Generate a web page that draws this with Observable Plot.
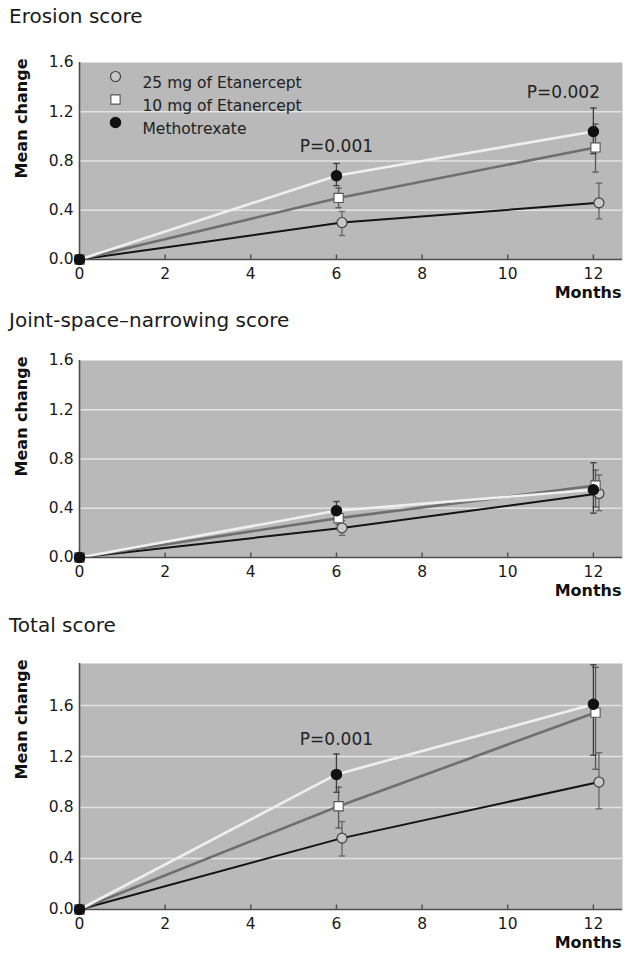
<!DOCTYPE html>
<html>
<head>
<meta charset="utf-8">
<script src="https://cdn.jsdelivr.net/npm/d3@7"></script>
<script src="https://cdn.jsdelivr.net/npm/@observablehq/plot@0.6"></script>
<style>
  body { margin: 0; background: #fff; width: 627px; height: 961px; position: relative; font-family: "DejaVu Sans", sans-serif; }
  .title { position: absolute; left: 9px; font-size: 20px; line-height: 24px; color: #1a1a1a; white-space: nowrap; }
  .panel { position: absolute; left: 0; }
</style>
</head>
<body>
<script>
// Visits and groups
const months = [0, 6, 12];
const seriesNames = ["25 mg of Etanercept", "10 mg of Etanercept", "Methotrexate"];
const xTicks = [0, 2, 4, 6, 8, 10, 12];

// Erosion score: mean change, lower and upper error bar ends
const erosionMean = [[0, 0.30, 0.46], [0, 0.50, 0.91], [0, 0.68, 1.04]];
const erosionLo   = [[null, 0.195, 0.33], [null, 0.42, 0.71], [null, 0.60, 0.86]];
const erosionHi   = [[null, 0.39, 0.62], [null, 0.58, 1.10], [null, 0.78, 1.23]];
const erosionP = ["P=0.001", "P=0.002"];
const erosionPMonth = [6, 11.3];
const erosionPValue = [0.92, 1.36];

// Joint-space-narrowing score
const jsnMean = [[0, 0.24, 0.52], [0, 0.32, 0.585], [0, 0.38, 0.55]];
const jsnLo   = [[null, 0.18, 0.38], [null, 0.27, 0.41], [null, 0.31, 0.36]];
const jsnHi   = [[null, 0.30, 0.67], [null, 0.38, 0.71], [null, 0.455, 0.77]];

// Total score
const totalMean = [[0, 0.56, 1.00], [0, 0.81, 1.545], [0, 1.06, 1.61]];
const totalLo   = [[null, 0.42, 0.79], [null, 0.64, 1.10], [null, 0.92, 1.21]];
const totalHi   = [[null, 0.69, 1.23], [null, 0.96, 1.90], [null, 1.22, 1.92]];
const totalP = ["P=0.001"];
const totalPMonth = [6];
const totalPValue = [1.33];

const yTicks = [0, 0.4, 0.8, 1.2, 1.6];

const BG = "#b9b9b9", GRID = "#e4e4e4", AXIS = "#4d4d4d", INK = "#1a1a1a";

// Per-group look: line, marker, small horizontal shift (in months) so markers don't overlap
const styles = [
  {line: "#141414", lw: 2,   shift: 0.13, symbol: "circle", fill: "#c8c8c8", stroke: "#3a3a3a", r: 5,   err: "#666"},
  {line: "#6f6f6f", lw: 2.6, shift: 0.05, symbol: "square", fill: "#ffffff", stroke: "#555",    r: 5.2, err: "#555"},
  {line: "#efefef", lw: 2.6, shift: 0,    symbol: "circle", fill: "#111111", stroke: "#111",    r: 5.2, err: "#3d3d3d"}
];

// Horizontal cap used at the ends of the error bars
const capSymbol = {draw(ctx, size) { const r = Math.sqrt(size) / 2; ctx.moveTo(-r, 0); ctx.lineTo(r, 0); }};
// Short inward tick rising from the bottom axis
const tickUpSymbol = {draw(ctx) { ctx.moveTo(0, 0); ctx.lineTo(0, -5); }};

function buildPanel({mean, lo, hi, yMax, height, marginBottom, pTexts = [], pMonths = [], pValues = [], legend = false}) {
  const marks = [
    Plot.frame({fill: BG}),
    Plot.gridY(yTicks.filter(v => v > 0 && v < yMax), {stroke: GRID, strokeOpacity: 1, strokeWidth: 1.6}),
    Plot.axisX({ticks: xTicks, tickSize: 0, tickPadding: 8, fontSize: 15.5, label: null, fill: INK}),
    Plot.axisY({ticks: yTicks, tickSize: 0, tickPadding: 6, tickFormat: d3.format(".1f"), fontSize: 15.5, label: null, fill: INK}),
    Plot.dot(xTicks.filter(v => v > 0), {x: d => d, y: () => 0, symbol: tickUpSymbol, r: 3, stroke: AXIS, strokeWidth: 1.4})
  ];
  const xOf = (i) => (d) => d.month + (d.month > 0 ? styles[i].shift : 0);
  seriesNames.forEach((name, i) => {
    const rows = months.map((m, j) => ({month: m, value: mean[i][j]}));
    marks.push(Plot.line(rows, {x: xOf(i), y: "value", stroke: styles[i].line, strokeWidth: styles[i].lw}));
  });
  seriesNames.forEach((name, i) => {
    const rows = months.map((m, j) => ({month: m, value: mean[i][j], lo: lo[i][j], hi: hi[i][j]})).filter(d => d.lo != null);
    const st = styles[i];
    marks.push(
      Plot.ruleX(rows, {x: xOf(i), y1: "lo", y2: "hi", stroke: st.err, strokeWidth: 1.3}),
      Plot.dot(rows, {x: xOf(i), y: "lo", symbol: capSymbol, r: 3.6, stroke: st.err, strokeWidth: 1.3}),
      Plot.dot(rows, {x: xOf(i), y: "hi", symbol: capSymbol, r: 3.6, stroke: st.err, strokeWidth: 1.3})
    );
  });
  marks.push(
    Plot.ruleX([0], {stroke: AXIS, strokeWidth: 1.6}),
    Plot.ruleY([0], {stroke: AXIS, strokeWidth: 1.6})
  );
  seriesNames.forEach((name, i) => {
    const rows = months.map((m, j) => ({month: m, value: mean[i][j]}));
    const st = styles[i];
    // at baseline all groups coincide; the square prints solid there
    const fill = st.symbol === "square" ? (d => d.month === 0 ? "#111" : st.fill) : st.fill;
    marks.push(Plot.dot(rows, {x: xOf(i), y: "value", symbol: st.symbol, r: st.r, fill, stroke: st.stroke, strokeWidth: 1.1}));
  });
  if (pTexts.length) {
    marks.push(Plot.text(pTexts.map((t, k) => ({t, month: pMonths[k], value: pValues[k]})),
      {x: "month", y: "value", text: "t", fontSize: 17, fill: "#222"}));
  }
  if (legend) {
    seriesNames.forEach((name, i) => {
      const st = styles[i];
      marks.push(
        Plot.dot([name], {frameAnchor: "top-left", dx: 36, dy: 14 + 23 * i, symbol: st.symbol, r: st.r, fill: st.fill, stroke: st.stroke, strokeWidth: 1.1}),
        Plot.text([name], {frameAnchor: "top-left", text: d => d, dx: 63, dy: 14 + 23 * i, textAnchor: "start", fontSize: 15.5, fill: "#222"})
      );
    });
  }
  marks.push(
    Plot.text(["Mean change"], {frameAnchor: "top-left", text: d => d, rotate: -90, textAnchor: "end", dx: -64, dy: -4, fontWeight: "bold", fontSize: 16, fill: "#111"}),
    Plot.text(["Months"], {frameAnchor: "bottom-right", text: d => d, textAnchor: "end", dx: -1, dy: 38, fontWeight: "bold", fontSize: 16, fill: "#111"})
  );
  return Plot.plot({
    width: 627,
    height,
    marginTop: 22,
    marginLeft: 79,
    marginRight: 5,
    marginBottom,
    x: {domain: [0, 12.68], label: null},
    y: {domain: [0, yMax], label: null},
    style: {fontFamily: "DejaVu Sans, sans-serif", fontSize: "15.5px", color: INK, background: "transparent", overflow: "visible"},
    marks
  });
}

const panels = [
  {title: "Erosion score", titleTop: 4, top: 40,
   opts: {mean: erosionMean, lo: erosionLo, hi: erosionHi, yMax: 1.6, height: 264, marginBottom: 45,
          pTexts: erosionP, pMonths: erosionPMonth, pValues: erosionPValue, legend: true}},
  {title: "Joint-space\u2013narrowing score", titleTop: 308, top: 338,
   opts: {mean: jsnMean, lo: jsnLo, hi: jsnHi, yMax: 1.6, height: 264, marginBottom: 45}},
  {title: "Total score", titleTop: 613, top: 641,
   opts: {mean: totalMean, lo: totalLo, hi: totalHi, yMax: 1.93, height: 318, marginBottom: 50,
          pTexts: totalP, pMonths: totalPMonth, pValues: totalPValue}}
];

for (const p of panels) {
  const t = document.createElement("div");
  t.className = "title";
  t.style.top = p.titleTop + "px";
  t.textContent = p.title;
  document.body.appendChild(t);
  const wrap = document.createElement("div");
  wrap.className = "panel";
  wrap.style.top = p.top + "px";
  wrap.appendChild(buildPanel(p.opts));
  document.body.appendChild(wrap);
}
</script>
</body>
</html>
